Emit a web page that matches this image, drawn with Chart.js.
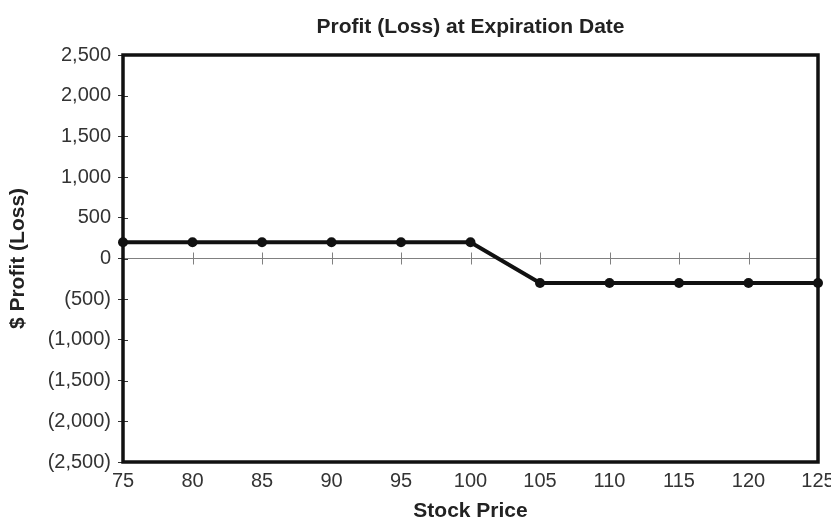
<!DOCTYPE html>
<html>
<head>
<meta charset="utf-8">
<title>Profit (Loss) at Expiration Date</title>
<script src="https://cdn.jsdelivr.net/npm/chart.js@4.4.1/dist/chart.umd.min.js"></script>
<style>
  html, body { margin: 0; padding: 0; background: #ffffff; }
  #wrap { width: 831px; height: 520px; position: relative; }
</style>
</head>
<body>
<div id="wrap"><canvas id="chart"></canvas></div>
<script>
// Stock price at expiration and the resulting profit (loss)
const stockPrices = [75, 80, 85, 90, 95, 100, 105, 110, 115, 120, 125];
const profitLoss  = [200, 200, 200, 200, 200, 200, -300, -300, -300, -300, -300];
// Axis ranges and tick steps
const priceRange  = [75, 125];
const priceStep   = 5;
const profitRange = [-2500, 2500];
const profitStep  = 500;
const chartTitle  = 'Profit (Loss) at Expiration Date';

const FONT = "'Liberation Sans', Arial, sans-serif";

function money(v) {
  const s = Math.abs(v).toLocaleString('en-US');
  return v < 0 ? '(' + s + ')' : s;
}

// Thick frame round the plot, small ticks on the zero line and inner y ticks,
// and the heading centred over the plot area
const framePlugin = {
  id: 'frame',
  beforeDatasetsDraw(chart) {
    const { ctx, chartArea: a, scales: { x, y } } = chart;
    ctx.save();
    ctx.strokeStyle = '#808080';
    ctx.lineWidth = 1;
    const y0 = y.getPixelForValue(0);
    for (const p of stockPrices) {
      const px = Math.round(x.getPixelForValue(p)) + 0.5;
      ctx.beginPath();
      ctx.moveTo(px, y0 - 6);
      ctx.lineTo(px, y0 + 6);
      ctx.stroke();
    }
    ctx.strokeStyle = '#333';
    for (let v = profitRange[0]; v <= profitRange[1]; v += profitStep) {
      const py = Math.round(y.getPixelForValue(v)) + 0.5;
      ctx.beginPath();
      ctx.moveTo(a.left, py);
      ctx.lineTo(a.left + 5, py);
      ctx.stroke();
    }
    ctx.strokeStyle = '#111';
    ctx.lineWidth = 3.5;
    ctx.strokeRect(a.left, a.top, a.right - a.left, a.bottom - a.top);

    ctx.fillStyle = '#222';
    ctx.font = 'bold 21px ' + FONT;
    ctx.textAlign = 'center';
    ctx.textBaseline = 'alphabetic';
    ctx.fillText(chartTitle, (a.left + a.right) / 2, 33);
    ctx.restore();
  }
};

new Chart(document.getElementById('chart'), {
  type: 'line',
  data: {
    datasets: [{
      data: stockPrices.map((p, i) => ({ x: p, y: profitLoss[i] })),
      borderColor: '#111',
      backgroundColor: '#111',
      borderWidth: 4,
      pointRadius: 5,
      pointHoverRadius: 5,
      pointBackgroundColor: '#111',
      pointBorderWidth: 0,
      tension: 0,
      clip: false
    }]
  },
  options: {
    responsive: true,
    maintainAspectRatio: false,
    animation: false,
    layout: { padding: { left: 0, right: 13, top: 55, bottom: 0 } },
    plugins: {
      legend: { display: false },
      tooltip: { enabled: false },
      title: { display: false }
    },
    scales: {
      x: {
        type: 'linear',
        min: priceRange[0],
        max: priceRange[1],
        ticks: {
          stepSize: priceStep,
          color: '#333',
          font: { family: FONT, size: 20 },
          padding: 7,
          maxRotation: 0
        },
        grid: { display: false, drawTicks: false },
        border: { display: false },
        title: {
          display: true,
          text: 'Stock Price',
          color: '#222',
          font: { family: FONT, size: 21, weight: 'bold' },
          padding: { top: 0, bottom: -4 }
        },
        afterFit(scale) {
          scale.height = 58;
          scale.paddingLeft = 0;
          scale.paddingRight = 0;
        }
      },
      y: {
        min: profitRange[0],
        max: profitRange[1],
        ticks: {
          stepSize: profitStep,
          color: '#333',
          font: { family: FONT, size: 20 },
          padding: 7,
          callback: v => money(v)
        },
        grid: {
          drawTicks: true,
          tickLength: 5,
          tickColor: '#333',
          lineWidth: 1,
          color: ctx => (ctx.tick && ctx.tick.value === 0) ? '#808080' : 'rgba(0,0,0,0)'
        },
        border: { display: false },
        title: {
          display: true,
          text: '$ Profit (Loss)',
          color: '#222',
          font: { family: FONT, size: 21, weight: 'bold' },
          padding: { top: 6, bottom: 0 }
        },
        afterFit(scale) {
          scale.width = 123;
          scale.paddingTop = 0;
          scale.paddingBottom = 0;
        }
      }
    }
  },
  plugins: [framePlugin]
});
</script>
</body>
</html>
